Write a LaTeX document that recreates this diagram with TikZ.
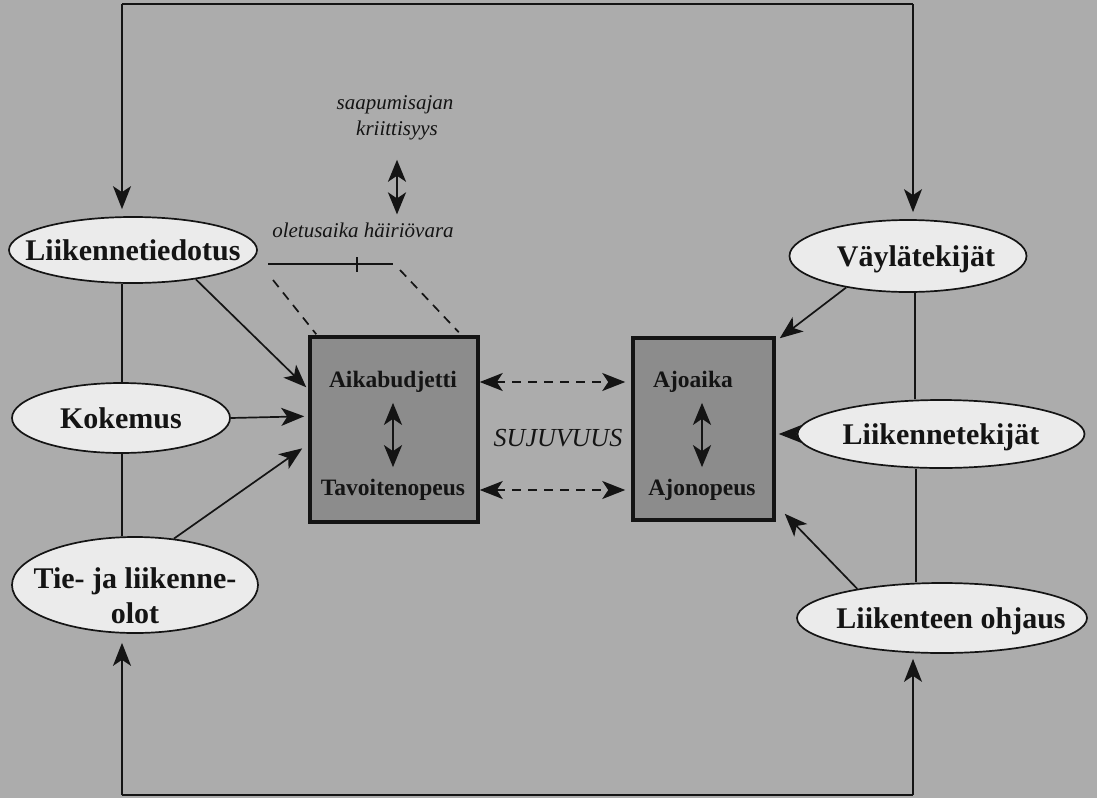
\documentclass[tikz,border=0pt]{standalone}
\usepackage{fontspec}
\setmainfont{Liberation Serif}
\usetikzlibrary{shapes.geometric,arrows.meta,calc}
\definecolor{bgGray}{RGB}{172,172,172}
\definecolor{ovalFill}{RGB}{235,235,235}
\definecolor{boxFill}{RGB}{140,140,140}
\definecolor{ink}{RGB}{20,20,20}
% zero-width text so the ellipse takes its size from minimum width/height
\newcommand\ovtxt[1]{\makebox[0pt]{#1}}
\begin{document}
\begin{tikzpicture}[x=1pt,y=-1pt,
  oval/.style={ellipse,draw=ink,line width=1.7pt,fill=ovalFill,inner sep=0pt,
    text height=20pt,text depth=0pt,text=ink,
    font=\fontsize{30}{35}\selectfont\bfseries},
  panel/.style={rectangle,draw=ink,line width=3.5pt,fill=boxFill,inner sep=0pt},
  boxtext/.style={font=\fontsize{23.5}{26}\selectfont\bfseries,text=ink,inner sep=0pt},
  note/.style={font=\fontsize{21}{24}\selectfont\itshape,text=ink,inner sep=0pt},
  link/.style={draw=ink,line width=1.7pt},
  arr/.style={link,-{Stealth[length=23pt,width=18pt,inset=6pt]}},
  dbl/.style={link,line width=2.4pt,{Stealth[length=22pt,width=18pt,inset=6pt]}-{Stealth[length=22pt,width=18pt,inset=6pt]}},
  dasharr/.style={link,dash pattern=on 9pt off 7pt,{Stealth[length=23pt,width=18pt,inset=6pt]}-{Stealth[length=23pt,width=18pt,inset=6pt]}},
  dashln/.style={link,dash pattern=on 9pt off 7pt},
]
\useasboundingbox (0,0) rectangle (1097,798);
\fill[bgGray] (0,0) rectangle (1097,798);

% outer feedback loop corners
\coordinate (tl) at (122,4);
\coordinate (tr) at (913,4);
\coordinate (bl) at (122,795);
\coordinate (br) at (913,795);

% central panels
\node[panel,minimum width=168pt,minimum height=185pt] (LB) at (394,429.5) {};
\node[panel,minimum width=141pt,minimum height=182pt] (RB) at (703.5,429) {};

\node[boxtext] (aika) at (393,382) {Aikabudjetti};
\node[boxtext] (tavo) at (393,490) {Tavoitenopeus};
\node[boxtext] (ajoaika) at (693,382) {Ajoaika};
\node[boxtext] (ajonop) at (702,490) {Ajonopeus};
\node[font=\fontsize{26}{28}\selectfont\itshape,text=ink,inner sep=0pt] (suju) at (558,438) {SUJUVUUS};

% left ellipses
\node[oval,minimum width=248pt,minimum height=66pt] (info) at (133,250) {\ovtxt{Liikennetiedotus}};
\node[oval,minimum width=218pt,minimum height=70pt] (koke) at (121,418) {\ovtxt{Kokemus}};
\node[oval,minimum width=246pt,minimum height=96pt,text height=0pt] (tie) at (135,585)
  {\ovtxt{\raisebox{-20pt}{\begin{tabular}{@{}c@{}}Tie- ja liikenne-\\olot\end{tabular}}}};

% right ellipses
\node[oval,minimum width=237pt,minimum height=72pt] (vayla) at (908,256) {\ovtxt{\kern16pt Väylätekijät}};
\node[oval,minimum width=287pt,minimum height=68pt] (liiktek) at (941,434) {\ovtxt{Liikennetekijät}};
\node[oval,minimum width=290pt,minimum height=70pt] (ohjaus) at (942,618) {\ovtxt{\kern18pt Liikenteen ohjaus}};

% notes above the left panel
\node[note] (saap) at (395,105) {saapumisajan};
\node[note] (krit) at (397,130) {kriittisyys};
\node[note] (olet) at (363,230) {oletusaika häiriövara};
\draw[dbl,shorten <=20pt,shorten >=8pt] (krit.south) -- (krit.south |- olet.north);

% time bar with its split mark
\coordinate (barL) at (268,264);
\coordinate (barR) at (393,264);
\coordinate (barT) at (357,264);
\draw[link] (barL) -- (barR);
\draw[link] ([yshift=7pt]barT) -- ([yshift=-8pt]barT);
\coordinate (dL) at (273,280);
\coordinate (dR) at (400,270);
\draw[dashln] (dL) -- ([xshift=8pt,yshift=1pt]LB.north west);
\draw[dashln] (dR) -- ([xshift=-21pt,yshift=3pt]LB.north east);

% feedback loop
\draw[link] (tl) -- (tr);
\draw[link] (bl) -- (br);
\draw[arr,shorten >=7pt] (tl) -- (tl |- info.north);
\draw[arr,shorten >=7pt] (tr) -- (tr |- vayla.north);
\draw[arr,shorten >=9pt] (bl) -- (bl |- tie.south);
\draw[arr,shorten >=5pt] (br) -- (br |- ohjaus.south);

% side links between ellipses
\draw[link] (tl |- info.south) -- (tl |- koke.north);
\draw[link] (tl |- koke.south) -- (tl |- tie.north);
\draw[link] ([xshift=2pt]tr |- vayla.south) -- ([xshift=2pt]tr |- liiktek.north);
\draw[link] ([xshift=3pt]tr |- liiktek.south) -- ([xshift=3pt]tr |- ohjaus.north);

% influences on the left panel
\coordinate (inA) at ($(LB.north west)!0.276!(LB.south west)$);
\coordinate (inB) at ($(LB.north west)!0.43!(LB.south west)$);
\coordinate (inC) at ($(LB.north west)!0.60!(LB.south west)$);
\draw[arr] (info.-25) -- ([xshift=-2pt]inA);
\draw[arr] (koke.east) -- ([xshift=-4pt]inB);
\draw[arr] (tie.50) -- ([xshift=-6pt]inC);

% influences on the right panel
\draw[arr] (vayla.207) -- ([xshift=4pt,yshift=-2pt]RB.north east);
\draw[arr] (liiktek.west) -- ([xshift=3pt]RB.east |- liiktek.west);
\draw[arr] (ohjaus.161) -- ([xshift=9pt,yshift=8pt]RB.south east);

% panel internals
\draw[dbl,shorten <=10pt,shorten >=12pt] (aika.south) -- (tavo.north);
\draw[dbl,shorten <=10pt,shorten >=12pt] (ajonop.north |- ajoaika.south) -- (ajonop.north);
\draw[dasharr,shorten >=6pt] (LB.east |- aika) -- (RB.west |- aika);
\draw[dasharr,shorten >=6pt] (LB.east |- tavo) -- (RB.west |- tavo);
\end{tikzpicture}
\end{document}
